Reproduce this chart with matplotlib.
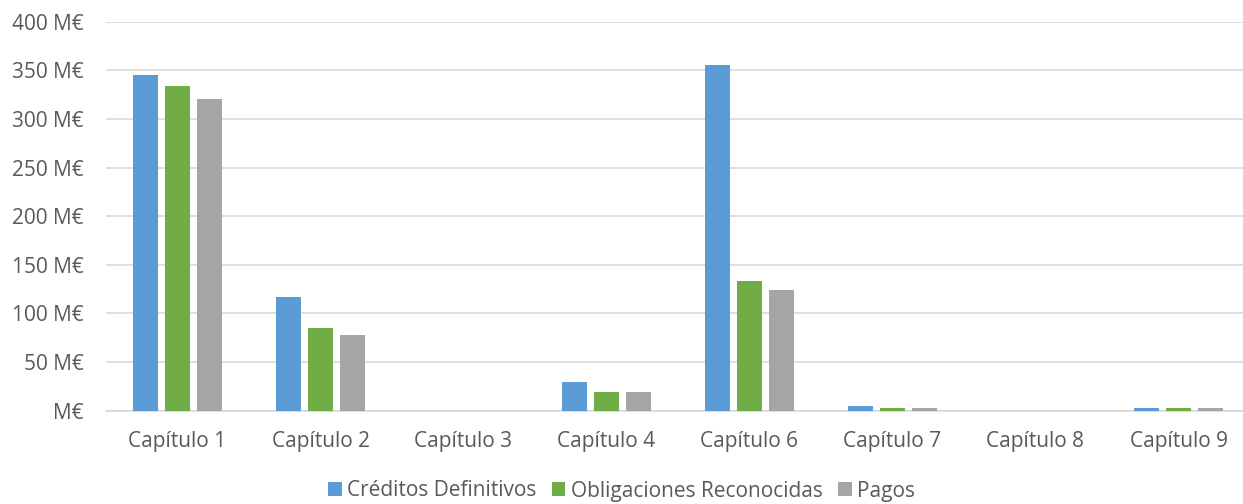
import matplotlib
matplotlib.use("Agg")
import matplotlib.pyplot as plt
import numpy as np

categories = ["Capítulo 1", "Capítulo 2", "Capítulo 3", "Capítulo 4",
              "Capítulo 6", "Capítulo 7", "Capítulo 8", "Capítulo 9"]
creditos = [345.0, 116.7, 0.0, 29.2, 355.6, 4.5, 0.0, 2.8]
obligaciones = [333.7, 85.4, 0.0, 19.2, 133.4, 2.8, 0.0, 2.8]
pagos = [320.6, 77.6, 0.0, 19.0, 123.8, 2.8, 0.0, 2.8]
series_names = ["Créditos Definitivos", "Obligaciones Reconocidas", "Pagos"]
colors = ["#5B9BD5", "#70AD47", "#A5A5A5"]
yticks = [0, 50, 100, 150, 200, 250, 300, 350, 400]

plt.rcParams['font.family'] = ['Open Sans', 'DejaVu Sans']
text_color = "#595959"
fs = 15

fig = plt.figure(figsize=(12.43, 5.04), dpi=100)
ax = fig.add_axes([106/1243, 1-410.7/504, (1250-106)/1243, (410.7-21.7)/504])

x = np.arange(len(categories))
w = 0.177
step = 0.224
for i, (vals, name, c) in enumerate(zip([creditos, obligaciones, pagos], series_names, colors)):
    ax.bar(x + (i-1)*step, vals, width=w, color=c, label=name, zorder=3)

ax.set_xlim(-0.5, len(categories)-0.5)
ax.set_ylim(0, 400)
ax.set_yticks(yticks)
ax.set_yticklabels([f"{v} M€" if v else "M€" for v in yticks])
ax.set_xticks(x)
ax.set_xticklabels(categories)
ax.grid(axis='y', color="#D9D9D9", linewidth=1.2, zorder=0)
for s in ["top", "right", "left"]:
    ax.spines[s].set_visible(False)
ax.spines["bottom"].set_color("#D9D9D9")
ax.spines["bottom"].set_linewidth(1.2)
ax.tick_params(axis='both', length=0, labelsize=fs, colors=text_color)
ax.tick_params(axis='y', pad=16)
ax.tick_params(axis='x', pad=14.5)

leg = fig.legend(loc="center", bbox_to_anchor=(0.5, 1-491/504), ncol=3, frameon=False,
                 fontsize=fs, handlelength=0.65, handleheight=0.65, handletextpad=0.25,
                 columnspacing=0.75, borderpad=0)
for t in leg.get_texts():
    t.set_color(text_color)

fig.savefig("out.png", dpi=100)
